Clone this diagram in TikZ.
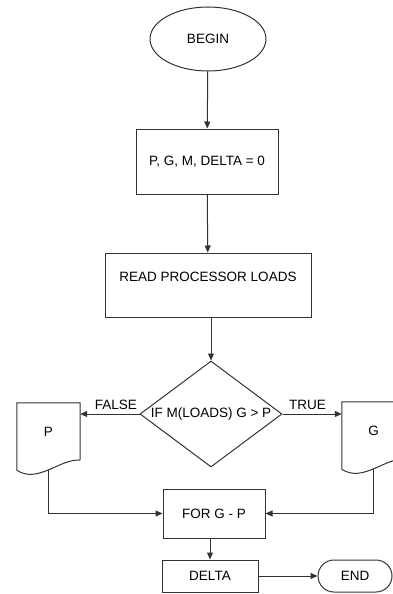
\documentclass[tikz,border=0pt]{standalone}
\usepackage{fontspec}
\setmainfont{Liberation Sans}
\usetikzlibrary{shapes, shapes.geometric, arrows.meta, positioning}

\begin{document}
\begin{tikzpicture}[
  x=1pt, y=-1pt,
  font=\fontsize{13.5}{16}\selectfont,
  line/.style={line width=1pt, draw=black!80},
  arr/.style={line, -{Triangle[length=7pt,width=6pt]}},
  proc/.style={rectangle, line},
  term/.style={ellipse, line},
  decision/.style={diamond, shape aspect=1.34, line, inner sep=0pt},
  doc/.style={rectangle, minimum width=63, minimum height=57, inner sep=0pt}]

  \clip (0,0) rectangle (393,594);

  \node[term, minimum width=116, minimum height=64] (begin) at (208,39) {BEGIN};
  \node[proc, minimum width=142, minimum height=65] (init) at (207,161.5) {P, G, M, DELTA = 0};
  \node[proc, minimum width=206, minimum height=64,
        label={[yshift=8pt]center:READ PROCESSOR LOADS}] (read) at (208,285) {};
  \node[decision, minimum width=142, minimum height=106] (test) at (211,414) {IF M(LOADS) G > P};
  \node[doc] (p) at (48.5,431.5) {P};
  \node[doc] (g) at (373.5,430.5) {G};
  \node[proc, minimum width=102, minimum height=49] (for) at (214,513.5) {FOR G - P};
  \node[proc, minimum width=96, minimum height=32] (delta) at (210,576) {DELTA};
  \node[proc, rounded corners=16pt, minimum width=74, minimum height=32] (stop) at (355,576) {END};

  % document outlines with wavy bottom
  \foreach \d in {p,g}
    \draw[line] (\d.south east) -- (\d.north east) -- (\d.north west) -- ([yshift=-10pt]\d.south west)
      .. controls +(21,14) and +(-20,-2) .. node[coordinate, pos=.5] (foot-\d) {} (\d.south east);

  \draw[arr] (begin) -- (init);
  \draw[arr] (init) -- (read);
  \draw[arr] (read.south -| test.north) -- (test.north);
  \draw[arr] (test.west) -- node[above, pos=.4, inner sep=4pt] {FALSE} (test.west -| p.east);
  \draw[arr] (test.east) -- node[above, pos=.42, inner sep=4pt] {TRUE} (test.east -| g.west);
  \draw[arr] (foot-p) |- (for.west);
  \draw[arr] (foot-g) |- (for.east);
  \draw[arr] (for.south -| delta.north) -- (delta.north);
  \draw[arr] (delta) -- (stop);
\end{tikzpicture}
\end{document}
